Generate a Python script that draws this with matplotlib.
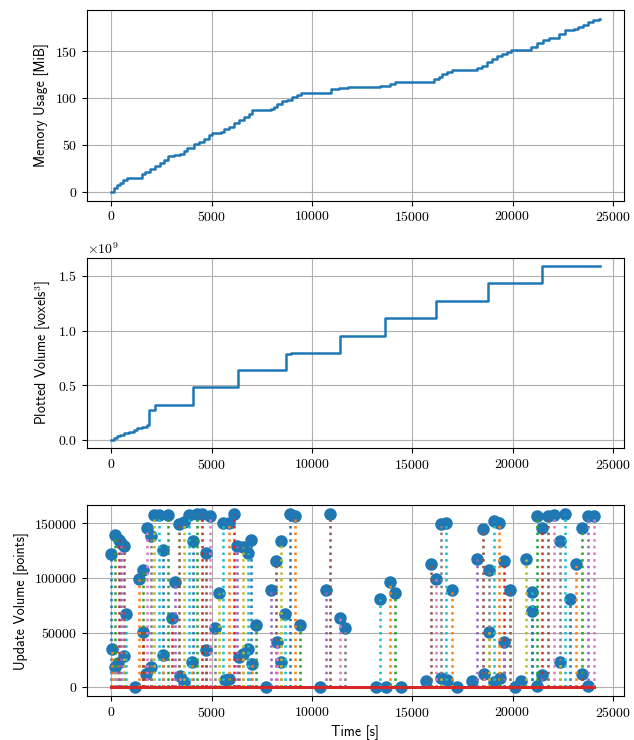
import matplotlib
matplotlib.use('Agg')
import matplotlib.pyplot as plt
import numpy as np

plt.rcParams['font.family'] = 'serif'
plt.rcParams['font.serif'] = ['cmr10']
plt.rcParams['mathtext.fontset'] = 'cm'
plt.rcParams['axes.formatter.use_mathtext'] = True
plt.rcParams['axes.unicode_minus'] = False
plt.rcParams['font.size'] = 10

# memory usage (step, post)
mem_t = [0, 117, 283, 450, 583, 783, 1533, 1700, 1950, 2200, 2417, 2617, 2817, 3117,
         3417, 3617, 3783, 4117, 4367, 4617, 4867, 5000, 5450, 5617, 5867, 6117, 6367,
         6617, 6867, 7033, 7950, 8117, 8283, 8533, 8783, 9000, 9250, 9450, 10950, 11367,
         11783, 13383, 13917, 14167, 16083, 16333, 16500, 16717, 16967, 18250, 18500,
         18750, 19000, 19250, 19500, 19750, 19917, 20667, 20917, 21217, 21500, 21833,
         22333, 22617, 23083, 23250, 23500, 23750, 24000, 24330, 24370]
mem_mib = [0, 4.3, 6.8, 9.6, 12.5, 15, 18.6, 21.4, 23.9, 27.5, 31, 34.3, 37.9, 38.9,
           40, 43.6, 47.1, 50.7, 53.6, 56.8, 60.7, 62.5, 63.9, 66.8, 69.6, 73.2, 76.4,
           79.3, 82.8, 87.1, 87.8, 90, 93.5, 96.4, 98.2, 100.7, 103.5, 105.7, 109.2, 110.3,
           111.7, 113.2, 115, 117.5, 120, 122.8, 125.7, 128.2, 129.6, 131.7, 134.6,
           138.2, 141.7, 144.6, 147.1, 148.9, 150.7, 151.7, 154.2, 158.5, 162.1, 164.2,
           168.5, 172.1, 173.9, 175.6, 178.1, 180.7, 182.8, 184.6, 184.6]

# plotted volume (step, post)
vol_t = [0, 117, 283, 450, 617, 867, 1117, 1283, 1533, 1783, 1900, 2200, 4067, 6317,
         8733, 8950, 11383, 13633, 16183, 18783, 21467, 24367]
vol_vox = [0, 0.015e9, 0.030e9, 0.046e9, 0.061e9, 0.070e9, 0.091e9, 0.104e9, 0.116e9,
           0.130e9, 0.274e9, 0.32e9, 0.48e9, 0.634e9, 0.787e9, 0.796e9, 0.951e9,
           1.113e9, 1.274e9, 1.433e9, 1.588e9, 1.588e9]

# update volumes
upd_t = [0, 50, 210, 380, 490, 620, 180, 330, 620, 760, 1170, 1400, 1560, 1580, 1730,
         1970, 1780, 1970, 2140, 2400, 2600, 2600, 2810, 3010, 3200, 3390, 3420, 3630,
         3630, 3870, 4080, 4050, 4290, 4520, 4740, 4740, 4930, 5180, 5390, 5590, 5670,
         5890, 5890, 6100, 6270, 6350, 6550, 6800, 6580, 6800, 6990, 7020, 7220, 7700,
         7970, 8190, 8250, 8460, 8460, 8680, 8920, 9170, 9420,
         10430, 10680, 10920, 11420, 11660, 13180, 13420, 13670, 13910, 14160, 14420,
         15690, 15940, 16180, 16430, 16460, 16710, 16760, 16960, 17250, 17960, 18240,
         18520, 18570, 18810, 18810, 19060, 19060, 19310, 19360, 19600, 19600, 19880,
         20130, 20410, 20650, 20980, 20980, 21200, 21230, 21490, 21490, 21770, 22050,
         22350, 22350, 22600, 22890, 23170, 23450, 23470, 23750, 23780, 24080]
upd_pts = [122400, 34600, 139000, 135000, 132000, 129000, 19000, 22000, 28500, 66700,
           600, 99500, 107000, 50500, 12000, 19000, 146000, 138000, 157600, 157600,
           126000, 30000, 157600, 63300, 96400, 149000, 10000, 5200, 151500, 157600,
           134000, 23000, 158200, 158500, 34300, 123000, 156700, 54500, 86300, 150000,
           7000, 150000, 7600, 158200, 129000, 27500, 30600, 34600, 128000, 123000,
           134600, 21400, 56600, 0, 89400, 115700, 41300, 23000, 134000, 66700, 158200,
           156700, 56600,
           0, 89400, 158500, 63300, 54500, 0, 80500, 600, 96400, 86300, 0,
           6100, 113000, 99500, 149300, 8600, 150500, 6700, 89400, 0, 6100, 117800,
           145000, 12200, 107000, 50500, 152000, 5200, 150000, 8300, 116000, 41300, 89400,
           0, 6100, 117800, 87200, 69800, 1500, 156700, 146000, 11600, 156700, 157600,
           134000, 23000, 158200, 80500, 113000, 146000, 12200, 156700, 1500, 156700]

fig, axs = plt.subplots(3, 1, figsize=(6.34, 7.4), dpi=100)
fig.subplots_adjust(left=0.137, right=0.984, top=0.9865, bottom=0.0595, hspace=0.3)
lab = dict(fontfamily='cmss10', fontsize=10)

ax = axs[0]
ax.step(mem_t, mem_mib, where='post', color='C0', lw=1.8)
ax.set_ylabel('Memory Usage [MiB]', **lab)
ax.grid(True)

ax = axs[1]
ax.step(vol_t, vol_vox, where='post', color='C0', lw=1.8)
ax.set_ylabel(r'Plotted Volume [voxels$^3$]', **lab)
ax.grid(True)

ax = axs[2]
ax.plot(upd_t, upd_pts, 'o', color='C0', ms=8, zorder=2)
colors = plt.rcParams['axes.prop_cycle'].by_key()['color']
for i, (t, v) in enumerate(zip(upd_t, upd_pts)):
    ax.plot([t, t], [0, v], ':', color=colors[i % len(colors)], lw=1.8, zorder=2.1)
ax.plot([0, max(upd_t)], [0, 0], '-', color='C3', lw=2.2, zorder=2.2)
ax.set_ylabel('Update Volume [points]', **lab)
ax.set_xlabel('Time [s]', **lab)
ax.grid(True)

for ax in axs:
    ax.set_xlim(-1215, 25550)
    ax.set_xticks([0, 5000, 10000, 15000, 20000, 25000])

fig.savefig('out.png', dpi=100)
